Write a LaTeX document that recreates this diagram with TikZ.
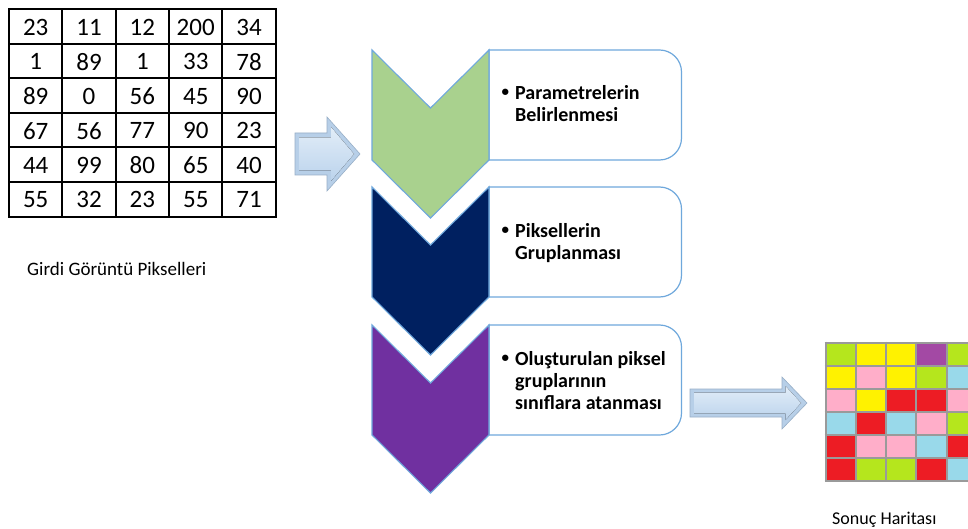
\documentclass[tikz,border=0pt]{standalone}
\usepackage{fontspec}
\setmainfont{Carlito}
\usetikzlibrary{calc}

\definecolor{chevgreen}{HTML}{A9D18E}
\definecolor{chevnavy}{HTML}{002060}
\definecolor{chevpurple}{HTML}{7030A0}
\definecolor{edgeblue}{HTML}{6FA8DC}
\definecolor{arrowouter}{HTML}{B7CFE8}
\definecolor{arrowedge}{HTML}{98AFC7}
\definecolor{arrowtop}{HTML}{E2EDF8}
\definecolor{arrowbot}{HTML}{BBD3EC}
\definecolor{gridgrey}{HTML}{9A9A9A}
\definecolor{mgreen}{HTML}{B5E61D}
\definecolor{myellow}{HTML}{FFF200}
\definecolor{mpurple}{HTML}{A349A4}
\definecolor{mpink}{HTML}{FFAEC9}
\definecolor{mblue}{HTML}{99D9EA}
\definecolor{mred}{HTML}{ED1C24}

\tikzset{
  num/.style={inner sep=0pt, font=\fontsize{25}{28}\selectfont},
  caption/.style={inner sep=0pt, anchor=base west},
  steptext/.style={inner sep=0pt, anchor=base west, font=\bfseries\fontsize{20}{22.4}\selectfont},
  chevron/.style={draw=edgeblue, line width=1.1pt, line join=miter},
  stepbox/.style={draw=edgeblue, line width=1.2pt, fill=white},
  blockarrow/.style={fill=arrowouter, draw=arrowedge, line width=0.6pt, line join=miter},
  blockface/.style={top color=arrowtop, bottom color=arrowbot, draw=none},
  tableline/.style={line width=2pt, black},
  gridline/.style={line width=2pt, gridgrey},
}

% bullet followed by a left-aligned block of lines
\newcommand{\steplines}[1]{%
  \begin{tabular}[t]{@{}l@{}l@{}}%
    \makebox[13.7pt][l]{\raisebox{2.4pt}{\fontsize{15}{15}\selectfont\textbullet}}%
    & \begin{tabular}[t]{@{}l@{}}#1\end{tabular}%
  \end{tabular}}

\begin{document}
\begin{tikzpicture}[x=1pt, y=-1pt]
\useasboundingbox (0,0) rectangle (968,529);
\fill[white] (0,0) rectangle (968,529);

% ---------- input pixel table ----------
\foreach \row [count=\r from 0] in
  {{23,11,12,200,34},{1,89,1,33,78},{89,0,56,45,90},
   {67,56,77,90,23},{44,99,80,65,40},{55,32,23,55,71}}
{
  \foreach \v [count=\k from 0] in \row
    \node[num, text depth=0pt] (n-\r-\k) at (9+53.35*\k+26.7, 9.3+34.55*\r+17.8) {\v};
}
\foreach \k in {0,...,5}
  \draw[tableline] (9+53.35*\k,9.3) -- (9+53.35*\k,216.6);
\foreach \r in {0,...,6}
  \draw[tableline] (8,9.3+34.55*\r) -- (276.7,9.3+34.55*\r);

\node[caption, font=\fontsize{19}{22}\selectfont] (incap) at (27,275) {Girdi Görüntü Pikselleri};

% ---------- block arrow into the process ----------
\draw[blockarrow] (295,133) -- (327,133) -- (327,117) -- (360,154)
  -- (327,191) -- (327,175) -- (295,175) -- cycle;
\fill[blockface] (299,137.5) -- (331,137.5) -- (331,127) -- (354,154)
  -- (331,181) -- (331,170.5) -- (299,170.5) -- cycle;

% ---------- process steps: text boxes and chevrons ----------
\foreach \y/\c in {50/chevgreen, 187/chevnavy, 325/chevpurple}
{
  \draw[stepbox] (489,\y) -- (659.5,\y)
    .. controls (671.65,\y) and (681.5,\y+9.85) .. (681.5,\y+22)
    -- (681.5,\y+88)
    .. controls (681.5,\y+100.15) and (671.65,\y+110) .. (659.5,\y+110)
    -- (489,\y+110) -- cycle;
  \draw[chevron, fill=\c] (372,\y) -- (430.5,\y+58) -- (489,\y)
    -- (489,\y+110) -- (430.5,\y+168) -- (372,\y+110) -- cycle;
}

\node[steptext] (s1) at (501.3,99.3) {\steplines{Parametrelerin\\Belirlenmesi}};
\node[steptext] (s2) at (501.3,237) {\steplines{Piksellerin\\Gruplanması}};
\node[steptext] (s3) at (501.3,365) {\steplines{Oluşturulan piksel\\gruplarının\\sınıflara atanması}};

% ---------- block arrow to the result map ----------
\draw[blockarrow] (690,389) -- (782,389) -- (782,377) -- (807,403)
  -- (782,429) -- (782,417) -- (690,417) -- cycle;
\fill[blockface] (694,392.5) -- (785.5,392.5) -- (785.5,386) -- (801,403)
  -- (785.5,420) -- (785.5,413.5) -- (694,413.5) -- cycle;

% ---------- result class map ----------
\begin{scope}
\clip (800,330) rectangle (968,500);
\foreach \row [count=\r from 0] in
  {{mgreen,myellow,myellow,mpurple,mgreen},
   {myellow,mpink,myellow,mgreen,mblue},
   {mpink,myellow,mred,mred,mpink},
   {mblue,mred,mblue,mpink,mgreen},
   {mred,mpink,mpink,mblue,mred},
   {mred,mgreen,mgreen,mred,mblue}}
{
  \foreach \c [count=\k from 0] in \row
    \fill[\c] (825.5+30.3*\k,342.5+23*\r) rectangle ++(30.3,23);
}
\foreach \k in {0,...,5}
  \draw[gridline] (825.5+30.3*\k,341.5) -- (825.5+30.3*\k,481.5);
\foreach \r in {0,...,6}
  \draw[gridline] (824.5,342.5+23*\r) -- (980,342.5+23*\r);
\end{scope}

\node[caption, font=\fontsize{18}{21}\selectfont] (outcap) at (832,524) {Sonuç Haritası};
\end{tikzpicture}
\end{document}
